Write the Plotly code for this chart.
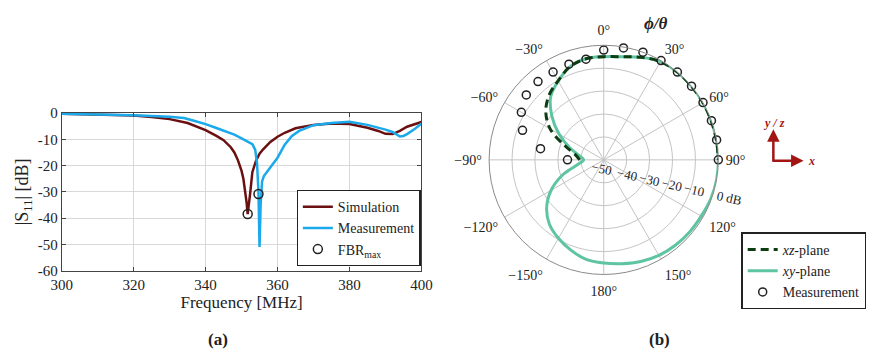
import plotly.graph_objects as go

# ---------- (a) |S11| data ----------
sim_freq = [300, 310, 320, 325, 330, 335, 340, 343, 345, 347, 348, 349, 350, 350.5, 351, 351.4, 351.7,
            352, 352.4, 353, 354, 355, 356, 358, 360, 362, 365, 370, 375, 380, 385, 388, 390, 392, 394,
            396, 398, 400]
sim_s11 = [-0.3, -0.5, -0.9, -1.5, -2.3, -3.8, -6.5, -8.7, -10.3, -13, -15, -18, -22, -25, -29.5, -34, -38.5,
           -34, -30.5, -22.5, -18.2, -15.5, -13.8, -11, -9, -7.5, -5.8, -4.5, -4, -4.2, -5.6, -6.8, -7.9,
           -8, -6.8, -5.2, -4.2, -3.4]

meas_freq = [300, 310, 320, 330, 334, 337, 340, 343, 345, 348, 350, 352, 353, 353.8, 354.3, 354.7, 355,
             355.3, 355.7, 356.2, 357, 358, 360, 362, 364, 366, 370, 375, 380, 385, 388, 390, 392, 393,
             394, 395, 396, 398, 400]
meas_s11 = [-0.3, -0.5, -0.8, -1.4, -1.9, -3, -4.2, -5.7, -6.6, -8.2, -9.6, -11, -11.8, -14, -19, -30, -51,
            -35, -26, -24, -22.5, -20.5, -17, -12, -8.7, -6.8, -4.6, -3.8, -3.3, -4.5, -5.5, -6.3, -7.2,
            -8.2, -8.9, -8.7, -8, -6.2, -4]

fbr_freq = [351.7, 354.7]
fbr_s11 = [-38.4, -30.8]

x_ticks = [300, 320, 340, 360, 380, 400]
y_ticks = [0, -10, -20, -30, -40, -50, -60]
y_ticktext = ["0", "-10", "-20", "-30", "-40", "-50", "-60"]

# ---------- (b) radiation pattern data (dB, compass angle) ----------
xy_theta = [-180, -170, -160, -150, -140, -130, -120, -110, -100, -90, -80, -70, -60, -50, -40, -30, -20,
            -10, 0, 10, 20, 30, 40, 50, 60, 70, 80, 90, 100, 110, 120, 130, 140, 150, 160, 170, 180]
xy_gain = [-5, -5.9, -8.1, -10.5, -13.2, -17.5, -23.5, -31, -38.5, -41.2, -39, -34, -27.5, -20.5, -14,
           -10.3, -6.8, -5.2, -5, -4.3, -2.4, -0.5, 0, 0, 0, -0.1, -0.1, 0, 0, -0.3, -0.9, -1.1, -1.4,
           -1.9, -2.8, -4, -5]

xz_theta = [-90, -80, -70, -60, -50, -40, -30, -20, -10, 0, 10, 20, 30, 40, 50, 60, 70, 80, 90]
xz_gain = [-39.5, -37.5, -32, -23, -17, -13, -10.2, -6.8, -5.2, -5, -4.3, -2.4, -0.5, 0, 0, 0, -0.1, -0.1, 0]

ms_theta = [-90, -80, -70, -60, -50, -40, -30, -20, -10, 0, 10, 20, 30, 40, 50, 60, 70, 80, 90]
ms_gain = [-34.2, -22, -12.3, -8.5, -5.9, -5.4, -5.8, -5.6, -5.4, -2.1, -0.4, 0, 0, 0, 0, 0, 0, 0, 0]

ang_ticks = [0, 30, 60, 90, 120, 150, 180, 210, 240, 270, 300, 330]
ang_text = ["0°", "30°", "60°", "90°", "120°", "150°", "180°", "−150°", "−120°", "−90°", "−60°", "−30°"]
r_ticks = [-50, -40, -30, -20, -10, 0]
FS = "\u2007"  # figure space, used only to nudge label text rightwards
r_text = ["−50", FS + "−40", FS + "−30", FS + "−20", FS + "−10", FS * 5 + "0 dB"]

W, H = 876, 357
SERIF = "Liberation Serif"
SIM_C = "#6b1010"
MEAS_C = "#1aa9ea"
XY_C = "#5ec4a2"
XZ_C = "#0f3d12"

fig = go.Figure()

fig.add_trace(go.Scatter(x=sim_freq, y=sim_s11, mode="lines", name="Simulation",
                         line=dict(color=SIM_C, width=2.5), legend="legend"))
fig.add_trace(go.Scatter(x=meas_freq, y=meas_s11, mode="lines", name="Measurement",
                         line=dict(color=MEAS_C, width=2.5), legend="legend"))
fig.add_trace(go.Scatter(x=fbr_freq, y=fbr_s11, mode="markers", name="FBR<sub>max</sub>",
                         marker=dict(symbol="circle-open", size=9, color="#222", line=dict(width=1.5)),
                         legend="legend"))

fig.add_trace(go.Scatterpolar(theta=xy_theta, r=xy_gain, mode="lines", name="<i>xy</i>-plane",
                              line=dict(color=XY_C, width=3, shape="spline"), legend="legend2",
                              legendrank=2))
fig.add_trace(go.Scatterpolar(theta=xz_theta, r=xz_gain, mode="lines", name="<i>xz</i>-plane",
                              line=dict(color=XZ_C, width=3, dash="8px,5px", shape="spline"),
                              legend="legend2", legendrank=1))
fig.add_trace(go.Scatterpolar(theta=ms_theta, r=ms_gain, mode="markers", name="Measurement",
                              marker=dict(symbol="circle-open", size=8, color="#222", line=dict(width=1.5)),
                              cliponaxis=False, legend="legend2", legendrank=3))

fig.update_layout(
    width=W, height=H,
    margin=dict(l=0, r=0, t=0, b=0),
    paper_bgcolor="white", plot_bgcolor="white",
    font=dict(family=SERIF, size=14, color="#222"),
    xaxis=dict(domain=[52 / W, 421 / W], range=[300, 400], tickvals=x_ticks,
               showgrid=True, gridcolor="#d9d9d9", zeroline=False,
               showline=True, linecolor="#444", linewidth=1, mirror="ticks",
               ticks="inside", ticklen=4, tickcolor="#444",
               tickfont=dict(size=15),
               title=dict(text="Frequency [MHz]", font=dict(size=17), standoff=2)),
    yaxis=dict(domain=[82 / H, 247 / H], range=[-60, 0], tickvals=y_ticks, ticktext=y_ticktext,
               showgrid=True, gridcolor="#d9d9d9", zeroline=False,
               showline=True, linecolor="#444", linewidth=1, mirror="ticks",
               ticks="inside", ticklen=4, tickcolor="#444",
               tickfont=dict(size=15),
               title=dict(text="|S<sub>11</sub>| [dB]", font=dict(size=18), standoff=4)),
    polar=dict(
        domain=dict(x=[(608 - 120) / W, (608 + 120) / W], y=[(198 - 120) / H, (198 + 120) / H]),
        bgcolor="white",
        angularaxis=dict(rotation=90, direction="clockwise", tickmode="array",
                         tickvals=ang_ticks, ticktext=ang_text, showgrid=True, gridcolor="#c4c4c4",
                         showline=True, linecolor="#8a8a8a", linewidth=1,
                         ticks="outside", ticklen=4, tickcolor="rgba(0,0,0,0)",
                         tickfont=dict(size=14)),
        radialaxis=dict(range=[-50, 0], tickmode="array", tickvals=r_ticks, ticktext=r_text,
                        angle=-13, tickangle=0, side="clockwise", showline=False, ticks="",
                        showgrid=True, gridcolor="#c4c4c4", tickfont=dict(size=13)),
    ),
    legend=dict(x=293 / W, y=(H - 270) / H, xanchor="left", yanchor="bottom",
                bordercolor="#222", borderwidth=1.2, bgcolor="white",
                font=dict(size=14), tracegroupgap=0, itemwidth=30),
    legend2=dict(x=749 / W, y=(H - 235) / H, xanchor="left", yanchor="top",
                 bordercolor="#222", borderwidth=1.5, bgcolor="white",
                 font=dict(size=14), tracegroupgap=0, itemwidth=30),
    showlegend=True,
)

anns = [
    dict(text="<b>(a)</b>", x=212 / W, y=(H - 347) / H, font=dict(size=17)),
    dict(text="<b>(b)</b>", x=665 / W, y=(H - 347) / H, font=dict(size=17)),
    dict(text="<b><i>ϕ/θ</i></b>", x=662 / W, y=(H - 16) / H, font=dict(size=17)),
    dict(text="<b><i>y / z</i></b>", x=783 / W, y=(H - 120) / H, font=dict(size=12, color="#a31515")),
    dict(text="<b><i>x</i></b>", x=821 / W, y=(H - 160) / H, font=dict(size=12, color="#a31515")),
]
for a in anns:
    fig.add_annotation(xref="paper", yref="paper", showarrow=False, xanchor="center", yanchor="middle", **a)

# axis-direction arrows
fig.add_annotation(xref="paper", yref="paper", x=782 / W, y=(H - 127) / H, ax=0, ay=34,
                   text="", showarrow=True, arrowhead=2, arrowsize=1, arrowwidth=2.5, arrowcolor="#a31515")
fig.add_annotation(xref="paper", yref="paper", x=813 / W, y=(H - 160) / H, ax=-32, ay=0,
                   text="", showarrow=True, arrowhead=2, arrowsize=1, arrowwidth=2.5, arrowcolor="#a31515")

fig.write_html("out.html")
